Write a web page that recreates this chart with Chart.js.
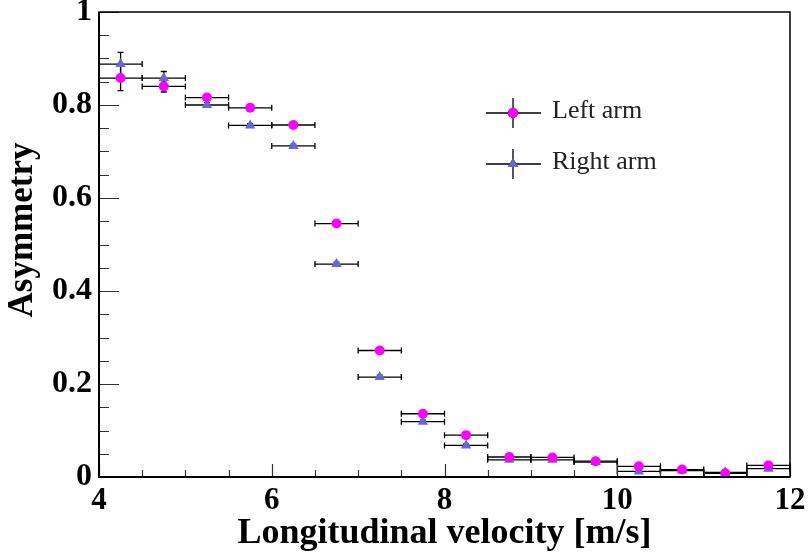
<!DOCTYPE html>
<html>
<head>
<meta charset="utf-8">
<script src="https://cdn.jsdelivr.net/npm/chart.js@4.4.1/dist/chart.umd.min.js"></script>
<style>
html,body{margin:0;padding:0;background:#fff;}
canvas{display:block;}
</style>
</head>
<body>
<canvas id="c" width="811" height="559"></canvas>
<script>
// ---- data ----
const binCenters = [4.25, 4.75, 5.25, 5.75, 6.25, 6.75, 7.25, 7.75, 8.25, 8.75, 9.25, 9.75, 10.25, 10.75, 11.25, 11.75];
const binHalfWidth = 0.25;
const leftArm  = [0.858, 0.840, 0.816, 0.794, 0.757, 0.545, 0.272, 0.136, 0.090, 0.043, 0.042, 0.034, 0.023, 0.016, 0.008, 0.025];
const leftErr  = [0.027, 0.012, 0.005, 0.004, 0.004, 0.004, 0.004, 0.003, 0.003, 0.002, 0.002, 0.002, 0.002, 0.002, 0.002, 0.002];
const rightArm = [0.888, 0.858, 0.800, 0.756, 0.712, 0.458, 0.215, 0.119, 0.068, 0.037, 0.037, 0.032, 0.012, 0.014, 0.010, 0.018];
const rightErr = [0.025, 0.014, 0.005, 0.004, 0.004, 0.004, 0.004, 0.003, 0.003, 0.002, 0.002, 0.002, 0.002, 0.002, 0.002, 0.002];
const seriesNames = ['Left arm', 'Right arm'];
const xTitle = 'Longitudinal velocity [m/s]';
const yTitle = 'Asymmetry';
const xRange = [4, 12], xMajorStep = 2, xMinorStep = 0.5;
const yRange = [0, 1], yMajorStep = 0.2, yMinorStep = 0.05;

const leftColor = '#ff00ff';
const rightColor = '#6666dd';
const serif = '"Liberation Serif", "DejaVu Serif", serif';

function pts(vals, errs) {
  return binCenters.map((x, i) => ({x: x, y: vals[i], err: errs[i]}));
}

// error bars (drawn beneath markers)
const errorBars = {
  id: 'errorBars',
  beforeDatasetsDraw(chart) {
    const ctx = chart.ctx, xs = chart.scales.x, ys = chart.scales.y;
    ctx.save();
    ctx.strokeStyle = '#000';
    ctx.lineWidth = 1.3;
    const cap = 3;
    for (let d = chart.data.datasets.length - 1; d >= 0; d--) {
      const ds = chart.data.datasets[d];
      ds.data.forEach(p => {
        const px = xs.getPixelForValue(p.x);
        const py = ys.getPixelForValue(p.y);
        const x0 = xs.getPixelForValue(p.x - binHalfWidth);
        const x1 = xs.getPixelForValue(p.x + binHalfWidth);
        const y0 = ys.getPixelForValue(p.y - p.err);
        const y1 = ys.getPixelForValue(p.y + p.err);
        ctx.beginPath();
        ctx.moveTo(x0, py); ctx.lineTo(x1, py);
        ctx.moveTo(x0, py - cap); ctx.lineTo(x0, py + cap);
        ctx.moveTo(x1, py - cap); ctx.lineTo(x1, py + cap);
        ctx.moveTo(px, y0); ctx.lineTo(px, y1);
        ctx.moveTo(px - cap, y0); ctx.lineTo(px + cap, y0);
        ctx.moveTo(px - cap, y1); ctx.lineTo(px + cap, y1);
        ctx.stroke();
      });
    }
    ctx.restore();
  }
};

// frame, inner ticks, y title, legend
const frame = {
  id: 'frame',
  afterDraw(chart) {
    const ctx = chart.ctx, a = chart.chartArea, xs = chart.scales.x, ys = chart.scales.y;
    ctx.save();
    // ticks
    ctx.strokeStyle = '#333';
    ctx.lineWidth = 1.2;
    ctx.beginPath();
    for (let v = xRange[0]; v <= xRange[1] + 1e-9; v += xMinorStep) {
      const major = Math.abs(v / xMajorStep - Math.round(v / xMajorStep)) < 1e-6;
      const px = Math.round(xs.getPixelForValue(v)) + 0.5;
      ctx.moveTo(px, a.bottom); ctx.lineTo(px, a.bottom - (major ? 13 : 7));
    }
    for (let v = yRange[0]; v <= yRange[1] + 1e-9; v += yMinorStep) {
      const major = Math.abs(v / yMajorStep - Math.round(v / yMajorStep)) < 1e-6;
      const py = Math.round(ys.getPixelForValue(v)) + 0.5;
      ctx.moveTo(a.left, py); ctx.lineTo(a.left + (major ? 20 : 10), py);
    }
    ctx.stroke();
    // frame box
    ctx.strokeStyle = '#000';
    ctx.lineWidth = 1.5;
    ctx.strokeRect(a.left, a.top, a.right - a.left, a.bottom - a.top);
    ctx.lineWidth = 2;
    ctx.beginPath();
    ctx.moveTo(a.left, a.top); ctx.lineTo(a.left, a.bottom); ctx.lineTo(a.right, a.bottom);
    ctx.stroke();

    // y title
    ctx.fillStyle = '#000';
    ctx.font = 'bold 35px ' + serif;
    ctx.textAlign = 'center';
    ctx.textBaseline = 'middle';
    ctx.translate(23, 230);
    ctx.rotate(-Math.PI / 2);
    ctx.fillText(yTitle, 0, 0);
    ctx.setTransform(1, 0, 0, 1, 0, 0);

    // legend
    const entries = [
      {ds: chart.data.datasets[0], cy: 113},
      {ds: chart.data.datasets[1], cy: 164}
    ];
    const cx = 513;
    entries.forEach(e => {
      ctx.strokeStyle = '#000';
      ctx.lineWidth = 1.3;
      ctx.beginPath();
      ctx.moveTo(486, e.cy); ctx.lineTo(541, e.cy);
      ctx.moveTo(cx, e.cy - 15); ctx.lineTo(cx, e.cy + 15);
      ctx.stroke();
      Chart.helpers.drawPoint(ctx, {
        pointStyle: e.ds.pointStyle, radius: e.ds.pointRadius, borderWidth: 0, rotation: 0
      }, cx, e.cy);
      ctx.fillStyle = e.ds.backgroundColor;
      ctx.fill();
      ctx.fillStyle = '#222';
      ctx.font = '26px ' + serif;
      ctx.textAlign = 'left';
      ctx.textBaseline = 'middle';
      ctx.fillText(e.ds.label, 552, e.cy - 2);
    });
    ctx.restore();
  }
};

new Chart(document.getElementById('c'), {
  type: 'scatter',
  data: {
    datasets: [
      {label: seriesNames[0], data: pts(leftArm, leftErr), pointStyle: 'circle', pointRadius: 5,
       backgroundColor: leftColor, borderColor: leftColor, borderWidth: 0, pointHoverRadius: 5},
      {label: seriesNames[1], data: pts(rightArm, rightErr), pointStyle: 'triangle', pointRadius: 6,
       backgroundColor: rightColor, borderColor: rightColor, borderWidth: 0, pointHoverRadius: 6}
    ]
  },
  options: {
    responsive: false,
    animation: false,
    devicePixelRatio: 1,
    layout: {padding: {top: 12, right: 21, left: 0, bottom: 0}},
    plugins: {legend: {display: false}, tooltip: {enabled: false}},
    scales: {
      x: {
        type: 'linear', min: xRange[0], max: xRange[1],
        grid: {display: false, drawTicks: false},
        border: {display: false},
        ticks: {stepSize: xMajorStep, padding: 5, color: '#000', maxRotation: 0,
                font: {family: serif, size: 31, weight: 'bold'},
                callback: v => String(v)},
        title: {display: true, text: xTitle, color: '#000', padding: {top: 0, bottom: 4},
                font: {family: serif, size: 36, weight: 'bold'}},
        afterFit(s) { s.height = 82; s.paddingLeft = 0; s.paddingRight = 0; }
      },
      y: {
        type: 'linear', min: yRange[0], max: yRange[1],
        grid: {display: false, drawTicks: false},
        border: {display: false},
        ticks: {stepSize: yMajorStep, padding: 7, color: '#000',
                font: {family: serif, size: 32, weight: 'bold'},
                callback: v => (Math.abs(v) < 1e-9 ? '0' : Math.abs(v - 1) < 1e-9 ? '1' : v.toFixed(1))},
        afterFit(s) { s.width = 99; s.paddingTop = 0; s.paddingBottom = 0; }
      }
    }
  },
  plugins: [errorBars, frame]
});
</script>
</body>
</html>
